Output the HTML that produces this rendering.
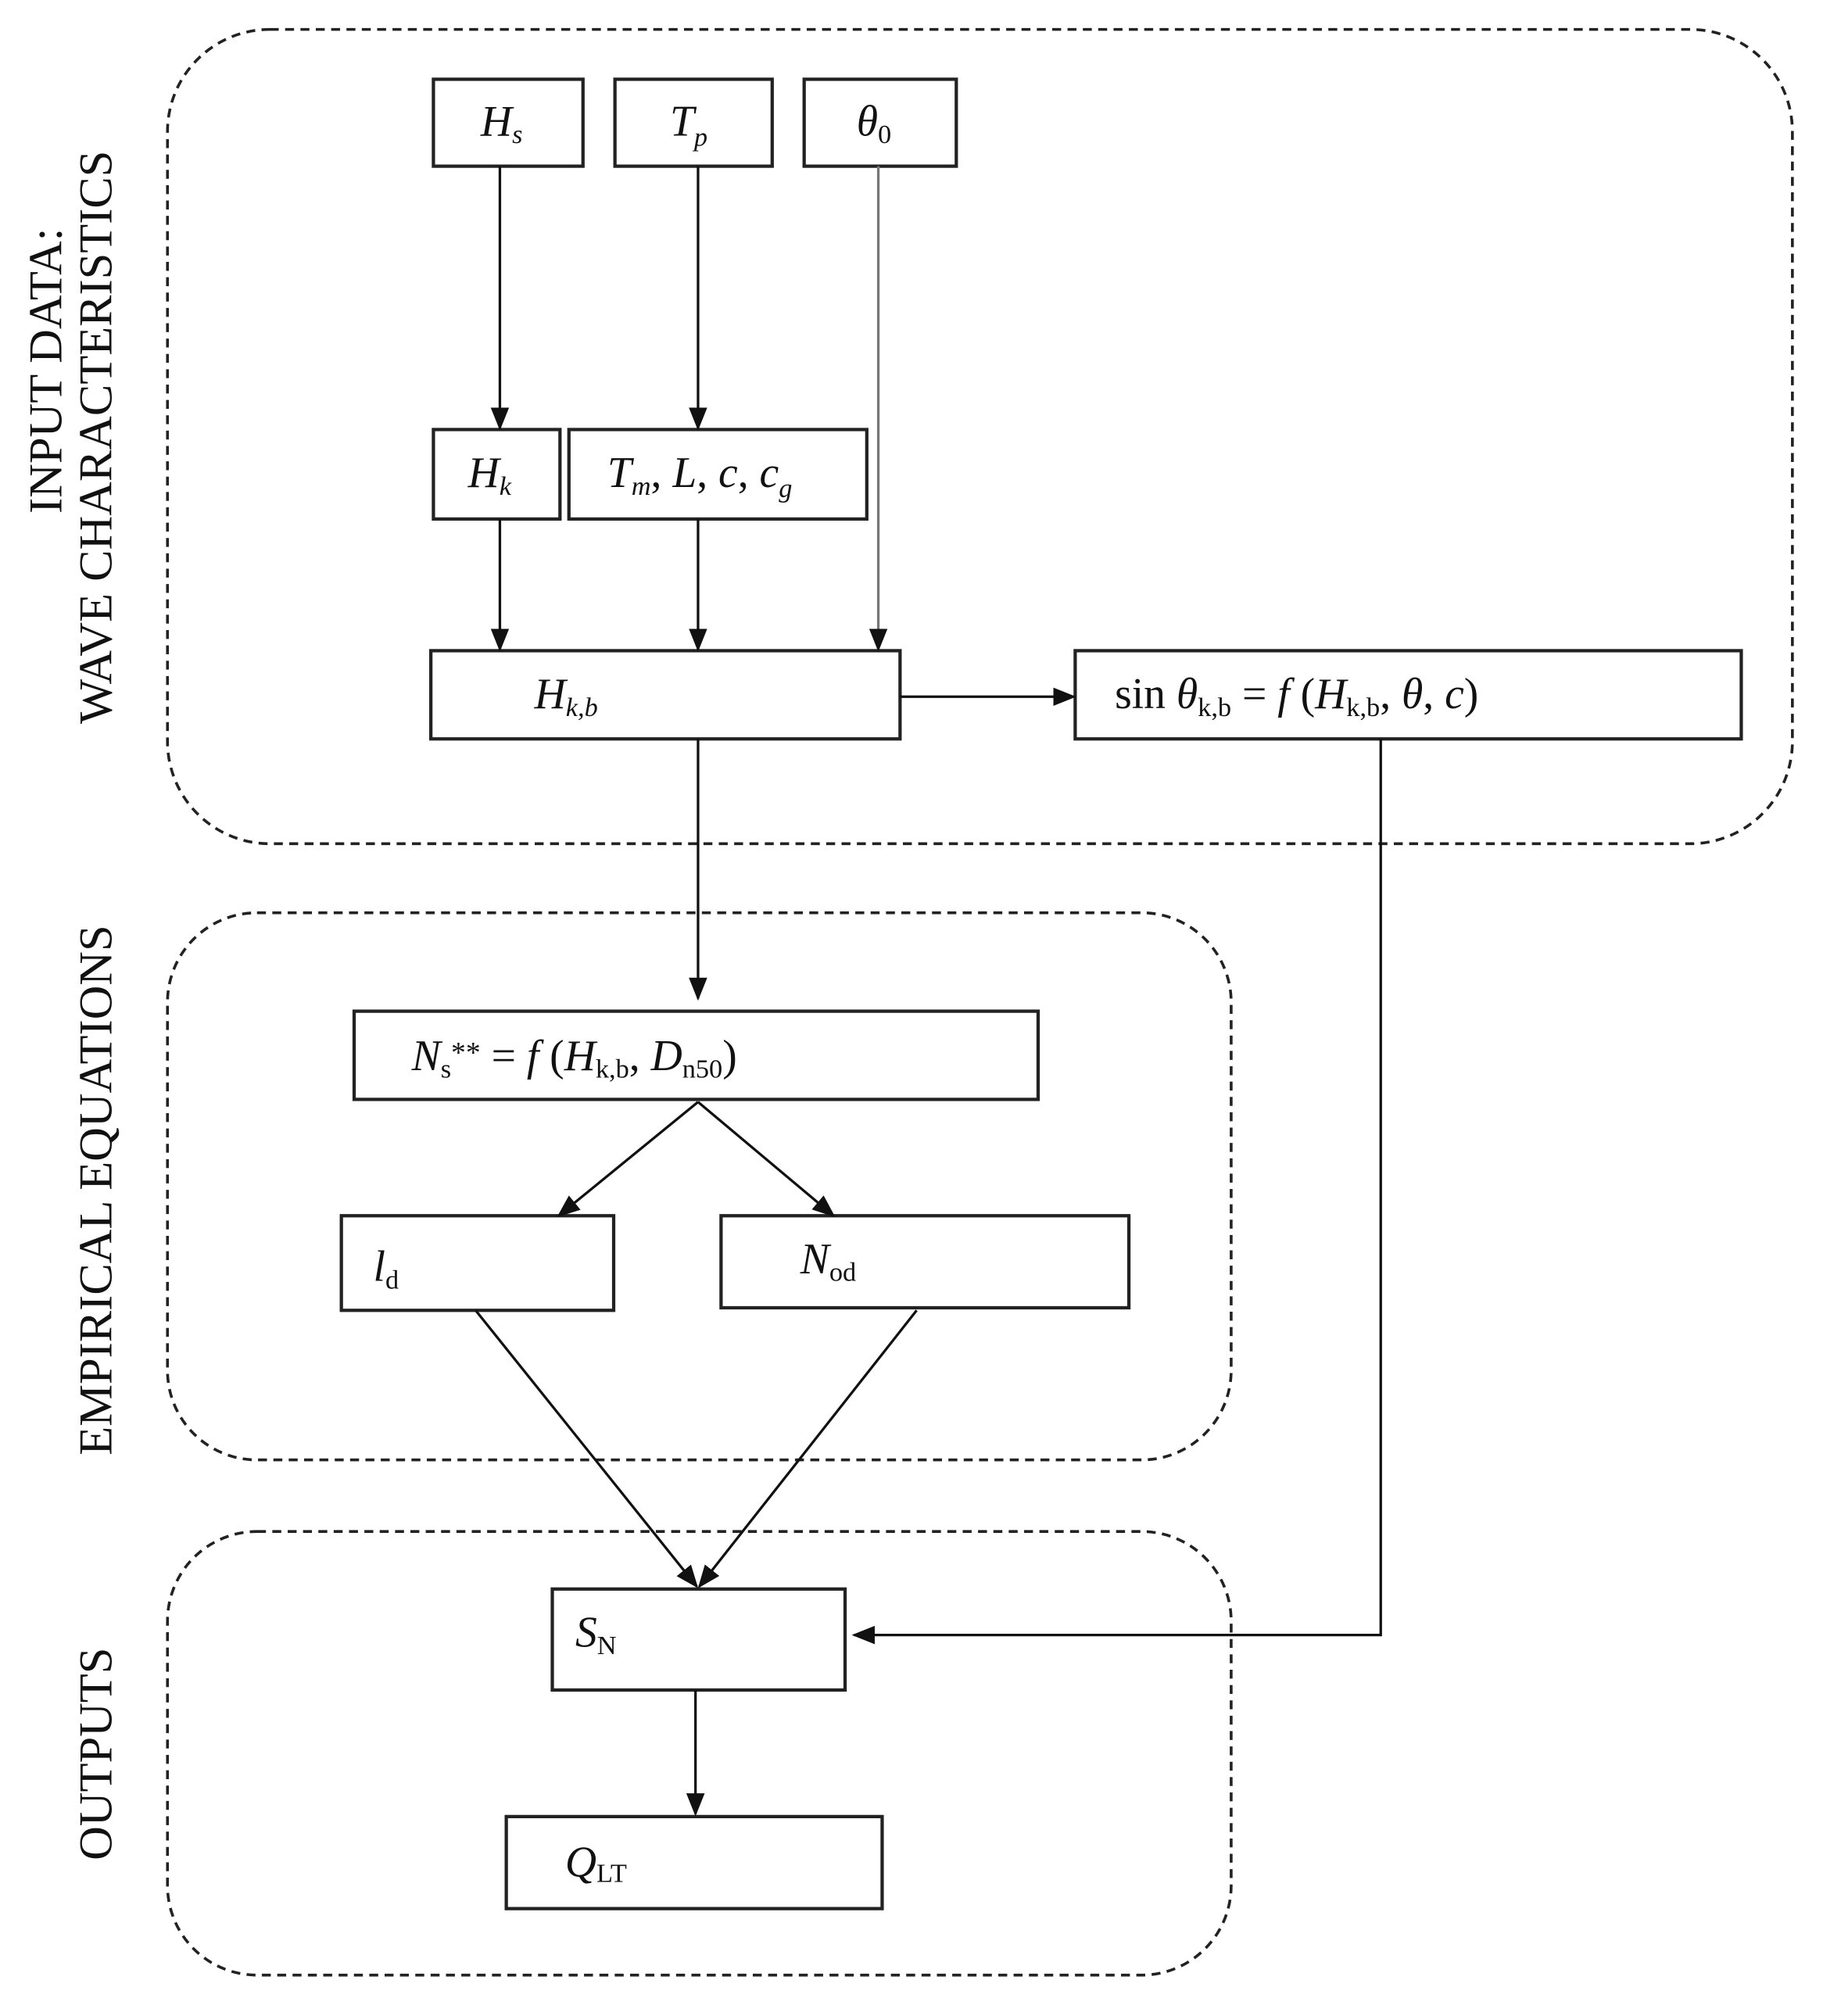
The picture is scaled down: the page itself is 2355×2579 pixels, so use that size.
<!DOCTYPE html>
<html><head><meta charset="utf-8"><style>
html,body{margin:0;padding:0;background:#fff}
svg{display:block}
text{font-family:"Liberation Serif",serif;fill:#111}
.i{font-style:italic}
</style></head><body>
<svg width="2355" height="2579" viewBox="0 0 1440 1577" xmlns="http://www.w3.org/2000/svg">
<defs>
<marker id="b" viewBox="0 0 10 10" markerWidth="18" markerHeight="18" refX="9" refY="5" orient="auto" markerUnits="userSpaceOnUse"><path d="M0,1 L10,5 L0,9 z" fill="#111"/></marker>
</defs>
<g fill="none" stroke="#222" stroke-width="2.2" stroke-dasharray="7,5">
<rect x="131" y="23" width="1271" height="637" rx="80"/>
<rect x="131" y="714" width="832" height="428" rx="70"/>
<rect x="131" y="1198" width="832" height="347" rx="70"/>
</g>
<g fill="#fff" stroke="#222" stroke-width="2.6">
<rect x="339" y="62" width="117" height="68"/>
<rect x="481" y="62" width="123" height="68"/>
<rect x="629" y="62" width="119" height="68"/>
<rect x="339" y="336" width="99" height="70"/>
<rect x="445" y="336" width="233" height="70"/>
<rect x="337" y="509" width="367" height="69"/>
<rect x="841" y="509" width="521" height="69"/>
<rect x="277" y="791" width="535" height="69"/>
<rect x="267" y="951" width="213" height="74"/>
<rect x="564" y="951" width="319" height="72"/>
<rect x="432" y="1243" width="229" height="79"/>
<rect x="396" y="1421" width="294" height="72"/>
</g>
<g stroke="#111" stroke-width="2" fill="none" marker-end="url(#b)">
<line x1="391" y1="130" x2="391" y2="335"/>
<line x1="546" y1="130" x2="546" y2="335"/>
<line x1="687" y1="130" x2="687" y2="508" stroke="#777"/>
<line x1="391" y1="406" x2="391" y2="508"/>
<line x1="546" y1="406" x2="546" y2="508"/>
<line x1="704" y1="545" x2="840" y2="545"/>
<line x1="546" y1="578" x2="546" y2="781"/>
<line x1="546" y1="862" x2="437" y2="951"/>
<line x1="546" y1="862" x2="652" y2="951"/>
<line x1="372" y1="1025" x2="545" y2="1241"/>
<line x1="717" y1="1025" x2="547" y2="1241"/>
<polyline points="1080,578 1080,1279 668,1279"/>
<line x1="544" y1="1322" x2="544" y2="1419"/>
</g>
<g font-size="34">
<text x="376" y="106" class="i">H<tspan font-size="21" dy="6">s</tspan></text>
<text x="524" y="106" class="i">T<tspan font-size="21" dy="8">p</tspan></text>
<text x="670" y="106" class="i">θ<tspan font-size="21" dy="6" font-style="normal">0</tspan></text>
<text x="366" y="381" class="i">H<tspan font-size="21" dy="6">k</tspan></text>
<text x="475" y="381" class="i">T<tspan font-size="21" dy="6">m</tspan><tspan dy="-6" font-style="normal">, </tspan>L<tspan font-style="normal">, </tspan>c<tspan font-style="normal">, </tspan>c<tspan font-size="21" dy="8">g</tspan></text>
<text x="418" y="554" class="i">H<tspan font-size="21" dy="6">k,b</tspan></text>
<text x="872" y="554">sin <tspan class="i">θ</tspan><tspan font-size="21" dy="6">k,b</tspan><tspan dy="-6"> = </tspan><tspan class="i">f</tspan> (<tspan class="i">H</tspan><tspan font-size="21" dy="6">k,b</tspan><tspan dy="-6">, </tspan><tspan class="i">θ</tspan>, <tspan class="i">c</tspan>)</text>
<text x="322" y="837"><tspan class="i">N</tspan><tspan font-size="21" dy="6">s</tspan><tspan dy="-12" font-size="23">**</tspan><tspan dy="6"> = </tspan><tspan class="i">f</tspan> (<tspan class="i">H</tspan><tspan font-size="21" dy="6">k,b</tspan><tspan dy="-6">, </tspan><tspan class="i">D</tspan><tspan font-size="21" dy="6">n50</tspan><tspan dy="-6">)</tspan></text>
<text x="292" y="1002" class="i">l<tspan font-size="21" dy="6" font-style="normal">d</tspan></text>
<text x="626" y="996" class="i">N<tspan font-size="21" dy="6" font-style="normal">od</tspan></text>
<text x="450" y="1288" class="i">S<tspan font-size="21" dy="6" font-style="normal">N</tspan></text>
<text x="442" y="1468" class="i">Q<tspan font-size="21" dy="4" font-style="normal">LT</tspan></text>
</g>
<g font-size="37">
<text transform="translate(48,290) rotate(-90)" text-anchor="middle">INPUT DATA:</text>
<text transform="translate(87,342) rotate(-90)" text-anchor="middle">WAVE CHARACTERISTICS</text>
<text transform="translate(87,931) rotate(-90)" text-anchor="middle">EMPIRICAL EQUATIONS</text>
<text transform="translate(87,1372) rotate(-90)" text-anchor="middle">OUTPUTS</text>
</g>
</svg>
</body></html>
